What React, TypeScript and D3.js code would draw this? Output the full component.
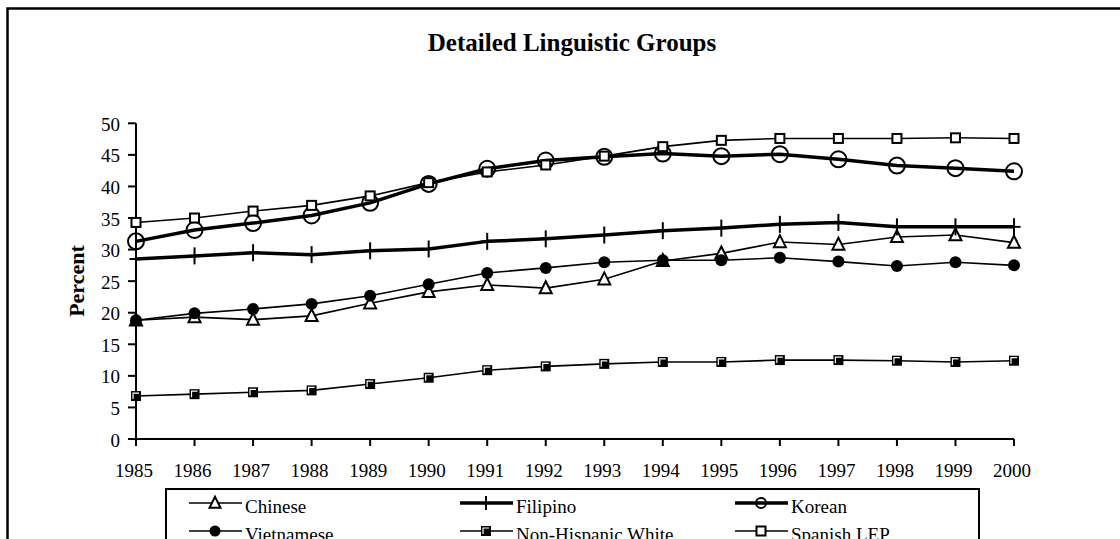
import React from "react";
import * as d3 from "d3";

const years = [1985, 1986, 1987, 1988, 1989, 1990, 1991, 1992, 1993, 1994, 1995, 1996, 1997, 1998, 1999, 2000];
const chinese = [18.8, 19.3, 18.9, 19.5, 21.5, 23.3, 24.4, 23.9, 25.3, 28.2, 29.4, 31.2, 30.8, 32.0, 32.3, 31.1];
const filipino = [28.5, 29.0, 29.5, 29.2, 29.8, 30.1, 31.3, 31.7, 32.3, 33.0, 33.4, 34.0, 34.3, 33.6, 33.6, 33.6];
const korean = [31.3, 33.1, 34.2, 35.4, 37.4, 40.4, 42.8, 44.1, 44.7, 45.2, 44.8, 45.1, 44.3, 43.3, 42.9, 42.4];
const vietnamese = [18.8, 19.9, 20.6, 21.4, 22.7, 24.5, 26.3, 27.1, 28.0, 28.3, 28.3, 28.7, 28.1, 27.4, 28.0, 27.5];
const nhWhite = [6.8, 7.1, 7.4, 7.7, 8.7, 9.7, 10.9, 11.5, 11.9, 12.2, 12.2, 12.5, 12.5, 12.4, 12.2, 12.4];
const spanishLEP = [34.3, 35.0, 36.1, 37.0, 38.5, 40.6, 42.3, 43.4, 44.8, 46.3, 47.3, 47.6, 47.6, 47.6, 47.7, 47.6];
const yTicks = [0, 5, 10, 15, 20, 25, 30, 35, 40, 45, 50];

type Marker = "triangle" | "plus" | "circleOpen" | "circleFilled" | "squareFilled" | "squareOpen";
interface Series { name: string; values: number[]; marker: Marker; width: number; }

const series: Series[] = [
  { name: "Chinese", values: chinese, marker: "triangle", width: 1.6 },
  { name: "Filipino", values: filipino, marker: "plus", width: 3.5 },
  { name: "Korean", values: korean, marker: "circleOpen", width: 3.5 },
  { name: "Vietnamese", values: vietnamese, marker: "circleFilled", width: 1.6 },
  { name: "Non-Hispanic White", values: nhWhite, marker: "squareFilled", width: 1.6 },
  { name: "Spanish LEP", values: spanishLEP, marker: "squareOpen", width: 1.6 },
];

const FONT = "'Liberation Serif', 'Times New Roman', serif";

function MarkerShape({ type, x, y, s }: { type: Marker; x: number; y: number; s: number }) {
  switch (type) {
    case "triangle": {
      const h = s * 0.95;
      const p = `${x},${y - h * 0.6} ${x - s / 2},${y + h * 0.45} ${x + s / 2},${y + h * 0.45}`;
      return <polygon points={p} fill="#fff" stroke="#000" strokeWidth={2} />;
    }
    case "plus":
      return (
        <g stroke="#000" strokeWidth={2}>
          <line x1={x} x2={x} y1={y - s / 2} y2={y + s / 2} />
          <line x1={x - s / 2.6} x2={x + s / 2.6} y1={y} y2={y} />
        </g>
      );
    case "circleOpen":
      return <circle cx={x} cy={y} r={s / 2} fill="none" stroke="#000" strokeWidth={2} />;
    case "circleFilled":
      return <circle cx={x} cy={y} r={s / 2} fill="#000" />;
    case "squareFilled":
      return (
        <g>
          <rect x={x - s / 2} y={y - s / 2} width={s} height={s} fill="#000" />
          <polyline
            points={`${x - s / 2 + 2},${y + s / 2 - 2} ${x - s / 2 + 2},${y - s / 2 + 2} ${x + s / 2 - 2},${y - s / 2 + 2}`}
            fill="none" stroke="#fff" strokeWidth={1.2} />
        </g>
      );
    case "squareOpen":
      return <rect x={x - s / 2} y={y - s / 2} width={s} height={s} fill="#fff" stroke="#000" strokeWidth={2} />;
  }
}

const plotSize: Record<Marker, number> = {
  triangle: 12, plus: 17, circleOpen: 16, circleFilled: 12, squareFilled: 10, squareOpen: 9,
};
const legendSize: Record<Marker, number> = {
  triangle: 11, plus: 14, circleOpen: 10, circleFilled: 11, squareFilled: 10, squareOpen: 9,
};

export default function App() {
  const W = 1120, H = 539;
  const x = d3.scaleLinear().domain([1985, 2000]).range([136, 1014]);
  const y = d3.scaleLinear().domain([0, 50]).range([439, 123.3]);
  const line = d3.line<number>().x((_, i) => x(years[i])).y((v) => y(v));

  const legendCols = [189, 460, 735];
  const legendRows = [503, 531];

  return (
    <svg width={W} height={H} style={{ position: "absolute", left: 0, top: 0, background: "#fff" }} fontFamily={FONT}>
      <rect x={0} y={0} width={W} height={H} fill="#fff" />
      <rect x={7.5} y={8.5} width={W + 20} height={H + 20} fill="none" stroke="#000" strokeWidth={2.5} />
      <text x={572} y={51} textAnchor="middle" fontSize={25} fontWeight="bold">Detailed Linguistic Groups</text>

      {/* y axis */}
      <line x1={136} x2={136} y1={y(50)} y2={y(0)} stroke="#000" strokeWidth={2} />
      {yTicks.map((t) => (
        <g key={t}>
          <line x1={128} x2={136} y1={y(t)} y2={y(t)} stroke="#000" strokeWidth={2} />
          <text x={120} y={y(t) + 7.5} textAnchor="end" fontSize={19}>{t}</text>
        </g>
      ))}
      <text transform={`translate(84,281) rotate(-90)`} textAnchor="middle" fontSize={22} fontWeight="bold">Percent</text>

      {/* x axis */}
      <line x1={x(1985)} x2={x(2000)} y1={439} y2={439} stroke="#000" strokeWidth={2} />
      {years.map((yr) => (
        <g key={yr}>
          <line x1={x(yr)} x2={x(yr)} y1={439} y2={446} stroke="#000" strokeWidth={2} />
          <text x={x(yr) - 2} y={477} textAnchor="middle" fontSize={19}>{yr}</text>
        </g>
      ))}

      {/* series */}
      {series.map((s) => (
        <g key={s.name}>
          <path d={line(s.values) || ""} fill="none" stroke="#000" strokeWidth={s.width} strokeLinejoin="round" />
          {s.values.map((v, i) => (
            <MarkerShape key={i} type={s.marker} x={x(years[i])} y={y(v)} s={plotSize[s.marker]} />
          ))}
        </g>
      ))}

      {/* legend */}
      <rect x={166} y={489} width={813} height={80} fill="#fff" stroke="#000" strokeWidth={2} />
      {series.map((s, i) => {
        const cx = legendCols[i % 3];
        const cy = legendRows[Math.floor(i / 3)];
        return (
          <g key={s.name}>
            <line x1={cx} x2={cx + 53} y1={cy} y2={cy} stroke="#000" strokeWidth={s.width} />
            <MarkerShape type={s.marker} x={cx + 26} y={cy} s={legendSize[s.marker]} />
            <text x={cx + 56} y={cy + 10} fontSize={19}>{s.name}</text>
          </g>
        );
      })}
    </svg>
  );
}
